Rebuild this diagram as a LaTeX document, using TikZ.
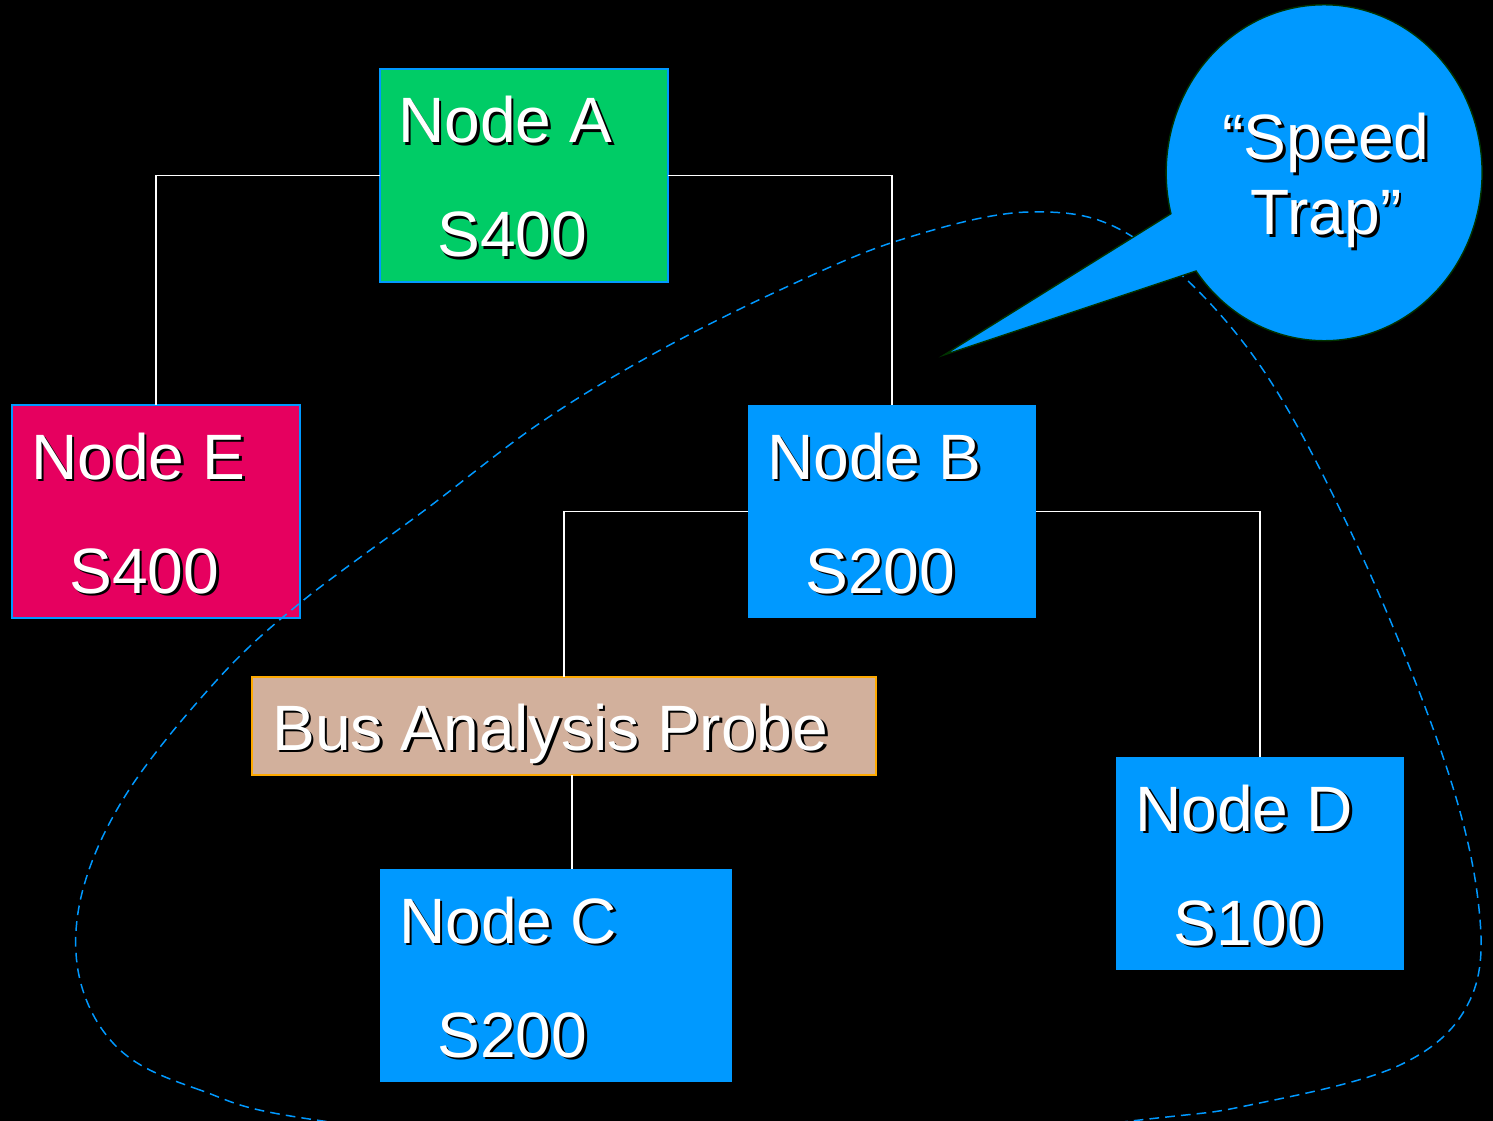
\documentclass[tikz,border=0pt]{standalone}
\usepackage{fontspec}
\setmainfont{Liberation Sans}
\definecolor{nodegreen}{HTML}{00CC66}
\definecolor{nodered}{HTML}{E6005F}
\definecolor{nodeblue}{HTML}{0099FF}
\definecolor{probetan}{HTML}{D2B09C}
\definecolor{probeline}{HTML}{FFAA00}
\definecolor{bubbleline}{HTML}{003300}
\newcommand\shtxt[1]{\rlap{\hspace{1.5pt}\raisebox{-1.5pt}{\color{black}#1}}{\color{white}#1}}

\begin{document}
\begin{tikzpicture}[x=0.02cm,y=-0.02cm,
  box/.style={anchor=north west, inner sep=0pt, outer sep=0pt, minimum height=4.26cm, line width=1.1pt},
  lbl/.style={anchor=base west, inner sep=0pt, font=\fontsize{36.5}{42}\selectfont},
  clbl/.style={anchor=base, inner sep=0pt, font=\fontsize{36.5}{42}\selectfont},
  conn/.style={draw=white, line width=0.85pt},
  trap/.style={draw=nodeblue, line width=0.85pt, dash pattern=on 5.5pt off 3.5pt}]

\fill[black] (0,0) rectangle (1493,1121);
\useasboundingbox (0,0) rectangle (1493,1121);

% boxes
\node[box, fill=nodegreen, draw=nodeblue, minimum width=5.76cm] (boxA) at (380,69) {};
\node[box, fill=nodered, draw=nodeblue, minimum width=5.76cm] (boxE) at (12,405) {};
\node[box, fill=nodeblue, minimum width=5.76cm] (boxB) at (748,405) {};
\node[box, fill=nodeblue, minimum width=7.04cm] (boxC) at (380,869) {};
\node[box, fill=nodeblue, minimum width=5.76cm] (boxD) at (1116,757) {};
\node[box, fill=probetan, draw=probeline, minimum width=12.48cm, minimum height=1.96cm] (probe) at (252,677) {};

% connectors
\draw[conn] (boxA.west) -| (boxE.north);
\draw[conn] (boxA.east) -| (boxB.north);
\draw[conn] (boxB.west) -| (probe.north);
\draw[conn] (boxB.east) -| (boxD.north);
\coordinate (cline) at (572,0);
\draw[conn] (probe.south -| cline) -- (boxC.north -| cline);

% labels
\node[lbl] (tA1) at (398,143) {\shtxt{Node A}};
\node[lbl] (tA2) at (437,257) {\shtxt{S400}};
\node[lbl] (tE1) at (31,479) {\shtxt{Node E}};
\node[lbl] (tE2) at (69,593) {\shtxt{S400}};
\node[lbl] (tB1) at (767,479) {\shtxt{Node B}};
\node[lbl] (tB2) at (805,593) {\shtxt{S200}};
\node[lbl] (tC1) at (399,943) {\shtxt{Node C}};
\node[lbl] (tC2) at (437,1057) {\shtxt{S200}};
\node[lbl] (tD1) at (1135,831) {\shtxt{Node D}};
\node[lbl] (tD2) at (1173,945) {\shtxt{S100}};
\node[lbl] (tP) at (272,750) {\shtxt{Bus Analysis Probe}};

% speed trap outline
\begin{scope}
\clip (0,0) rectangle (1493,1121);
\draw[trap] plot[smooth cycle, tension=0.6] coordinates {
 (323,1121) (200,1090) (120,1050) (80,980) (82,893) (127,793) (217,680)
 (300,603) (425,510) (540,423) (655,353) (780,290) (900,240) (1030,212)
 (1133,237) (1249,350) (1348,526) (1440,748) (1478,900) (1470,1000)
 (1400,1065) (1250,1105) (1131,1121) (730,1165)};
\end{scope}

% callout bubble
\fill[nodeblue, draw=bubbleline, line width=0.8pt] (1196,271)
  arc[start angle=215.8, end angle=554.1, x radius=3.16cm, y radius=3.36cm]
  -- (944,355) -- cycle;
\node[clbl] (sp1) at (1326,160) {\shtxt{“Speed}};
\node[clbl] (sp2) at (1326,235) {\shtxt{Trap”}};
\end{tikzpicture}
\end{document}
